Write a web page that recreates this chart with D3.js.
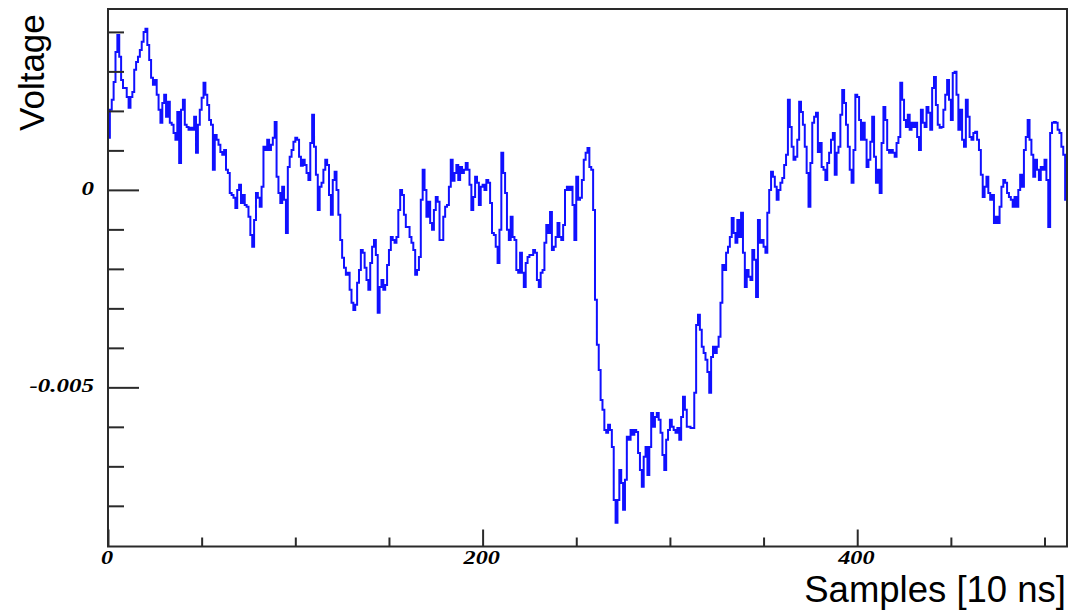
<!DOCTYPE html>
<html>
<head>
<meta charset="utf-8">
<script src="https://cdn.jsdelivr.net/npm/d3@7"></script>
<style>
  body { margin: 0; background: #fff; }
  svg { display: block; }
</style>
</head>
<body>
<script>
// Digitizer trace: one value per sample, in millivolts
const voltageMv = [
  1.32, 2.03, 2.28, 2.73, 3.49, 3.92, 3.37, 2.78, 2.58, 2.58,
  2.35, 2.08, 2.35, 2.48, 3.04, 3.24, 3.37, 3.54, 3.75, 4.00,
  4.08, 3.67, 3.29, 2.84, 2.66, 2.78, 2.41, 2.03, 1.70, 2.20,
  2.41, 1.85, 2.23, 1.70, 1.65, 1.44, 1.27, 1.97, 0.68, 2.03,
  2.28, 1.65, 1.59, 1.52, 1.57, 1.52, 1.85, 0.94, 1.65, 2.03,
  2.33, 2.71, 2.41, 2.15, 1.77, 1.65, 0.51, 1.39, 1.27, 1.14,
  0.96, 0.89, 1.01, 0.51, 0.43, -0.08, -0.13, -0.20, -0.46, 0,
  0.13, -0.33, -0.13, -0.38, -0.43, -0.68, -1.14, -1.44, -0.76, -0.08,
  -0.20, -0.43, 0.08, 1.09, 1.01, 1.27, 1.01, 1.14, 1.32, 1.72,
  0.33, -0.08, -0.33, 0.08, -0.25, -1.09, 0.58, 0.84, 1.01, 1.22,
  1.32, 1.27, 0.84, 0.61, 0.76, 0.63, 0.43, 0.25, 1.19, 1.90,
  1.09, 0.38, -0.51, 0.08, 0.18, 0.51, 0.76, 0.63, -0.13, -0.63,
  0.25, 0.46, 0, -0.63, -1.27, -1.72, -1.97, -2.15, -2.10, -2.53,
  -2.86, -3.04, -2.91, -2.35, -2.03, -1.52, -1.59, -1.97, -2.28, -2.53,
  -1.85, -1.44, -1.27, -1.65, -3.11, -2.46, -2.28, -2.53, -2.41, -1.90,
  -1.52, -1.19, -1.27, -1.34, -1.19, -0.51, 0, -0.13, -0.63, -0.94,
  -0.94, -1.19, -1.34, -1.52, -2.15, -2.03, -1.70, -0.25, 0.51, 0,
  -0.68, -0.30, -0.84, -1.01, -0.51, -0.18, -0.30, -1.27, -1.27, -0.68,
  -0.43, -0.38, 0.08, 0.76, 0.23, 0.43, 0.63, 0.25, 0.58, 0.43,
  0.51, 0.68, 0.51, 0.13, -0.51, -0.18, 0.33, 0.18, -0.38, 0.08,
  0.13, 0, 0.25, 0.18, -0.33, -1.09, -1.14, -1.44, -1.85, -1.01,
  0.94, 0.43, -0.08, -1.01, -1.27, -0.68, -1.19, -1.27, -2.03, -2.10,
  -1.59, -2.10, -2.46, -1.85, -1.70, -1.65, -1.65, -1.52, -1.59, -2.28,
  -2.46, -2.10, -2.03, -1.34, -0.89, -1.09, -0.56, -1.52, -1.44, -1.19,
  -0.84, -1.19, -1.27, -0.89, 0, 0.08, 0, 0.08, -0.38, -1.27,
  0.33, -0.25, -0.20, 0.25, 0.76, 0.94, 1.06, 0.58, 0.51, -0.51,
  -2.78, -3.92, -4.56, -5.32, -5.57, -6.08, -6.15, -5.95, -6.08, -6.51,
  -7.85, -8.43, -7.85, -7.09, -7.42, -8.10, -7.34, -6.25, -6.33, -6.08,
  -6.20, -6.08, -6.13, -6.66, -7.09, -7.52, -6.76, -6.51, -7.22, -6.51,
  -5.65, -6.00, -5.75, -5.65, -5.82, -6.15, -6.71, -7.09, -6.33, -6.08,
  -5.82, -6.00, -6.08, -6.15, -6.03, -6.33, -5.75, -5.24, -5.57, -6.00,
  -6.00, -6.03, -6.03, -5.14, -3.42, -3.16, -3.54, -3.97, -4.13, -4.30,
  -4.61, -5.14, -4.23, -3.97, -4.13, -3.97, -3.72, -2.86, -1.90, -2.03,
  -1.59, -1.44, -1.19, -0.71, -1.09, -1.34, -0.76, -1.19, -0.58, -1.59,
  -2.46, -2.03, -2.20, -2.28, -1.52, -1.77, -2.71, -0.76, -1.34, -1.27,
  -1.44, -1.59, -0.58, 0, 0.46, 0.33, 0.08, -0.25, 0, 0.18,
  0.30, 0.63, 0.89, 2.28, 1.59, 1.09, 0.76, 0.84, 1.27, 2.23,
  1.97, 1.65, 1.09, 0.43, -0.43, 0.68, 1.70, 1.85, 1.95, 0.96,
  1.19, 0.58, 0.51, 0.25, 0.68, 0.94, 1.27, 1.44, 0.38, 0.94,
  1.09, 1.90, 2.53, 2.20, 1.65, 1.09, 0.51, 0.18, 1.01, 2.41,
  2.35, 1.77, 1.27, 1.70, 1.27, 0.58, 0.76, 1.22, 1.85, 0.84,
  0.18, 0.51, -0.08, 1.19, 2.10, 1.77, 1.01, 0.94, 1.01, 0.94,
  0.84, 1.19, 1.34, 2.71, 2.28, 1.77, 1.59, 1.90, 1.52, 1.70,
  1.59, 1.70, 1.34, 1.01, 2.03, 1.70, 1.59, 2.10, 1.95, 1.52,
  2.58, 2.86, 2.15, 1.65, 1.57, 1.59, 2.03, 2.41, 2.78, 2.28,
  1.77, 2.96, 2.99, 2.41, 1.52, 2.03, 1.27, 1.09, 2.28, 1.85,
  1.34, 1.27, 1.44, 1.47, 1.27, 1.01, 0.38, -0.18, 0.08, 0.33,
  -0.08, -0.25, -0.13, -0.84, -0.68, -0.84, -0.43, 0.08, 0.25, 0.18,
  -0.08, -0.18, -0.25, -0.43, -0.18, -0.43, 0, 0.38, 0.08, 1.01,
  1.34, 1.77, 1.27, 0.89, 0.33, 0.76, 0.51, 0.25, 0.58, 0.51,
  0.76, 0.25, -0.94, 1.44, 1.70, 1.72, 1.70, 1.52, 1.44, 1.09,
  0.89, -0.25
];

// Axis ranges and ticks (volts on y, sample index on x)
const xDomain = [0, 512];
const yDomain = [-0.00903, 0.00458];
const xMajorTicks = [0, 200, 400];
const xMinorTicks = [50, 100, 150, 250, 300, 350, 450, 500];
const yMajorTicks = [0, -0.005];
const yMinorTicks = [0.004, 0.003, 0.002, 0.001, -0.001, -0.002, -0.003, -0.004, -0.006, -0.007, -0.008];
const yTickLabels = { "0": "0", "-0.005": "-0.005" };
const xTitle = "Samples [10 ns]";
const yTitle = "Voltage";

const width = 1074, height = 615;
const frame = { left: 108, right: 1067, top: 9, bottom: 546.5 };

const svg = d3.select("body").append("svg")
  .attr("width", width).attr("height", height);

const x = d3.scaleLinear().domain(xDomain).range([frame.left, frame.right]);
const y = d3.scaleLinear().domain(yDomain).range([frame.bottom, frame.top]);

const axisColor = "#2a2a2a";
const labelFont = "'Liberation Serif', 'DejaVu Serif', serif";
const stretch = 1.35;

// Clip region for the trace
svg.append("defs").append("clipPath").attr("id", "plot-clip")
  .append("rect")
  .attr("x", frame.left).attr("y", frame.top)
  .attr("width", frame.right - frame.left).attr("height", frame.bottom - frame.top);

// Trace, drawn as a step line (one flat segment per sample)
const line = d3.line()
  .x((d, i) => x(i + 0.5))
  .y(d => y(d / 1000))
  .curve(d3.curveStep);

svg.append("path")
  .datum(voltageMv)
  .attr("clip-path", "url(#plot-clip)")
  .attr("fill", "none")
  .attr("stroke", "#1010ff")
  .attr("stroke-width", 2)
  .attr("stroke-linejoin", "miter")
  .attr("d", line);

function styleAxis(g) {
  g.select(".domain").remove();
  g.selectAll(".tick line").attr("stroke", axisColor).attr("stroke-width", 2);
}

// X axis: minor ticks then major ticks with labels
svg.append("g")
  .attr("transform", `translate(0,${frame.bottom})`)
  .call(d3.axisBottom(x).tickValues(xMinorTicks).tickSize(-9).tickFormat(""))
  .call(styleAxis);

const xMajor = svg.append("g")
  .attr("transform", `translate(0,${frame.bottom})`)
  .call(d3.axisBottom(x).tickValues(xMajorTicks).tickSize(-17).tickPadding(4).tickFormat(d3.format("d")))
  .call(styleAxis);
xMajor.selectAll(".tick text")
  .attr("font-family", labelFont)
  .attr("font-style", "italic")
  .attr("font-weight", "bold")
  .attr("font-size", 18)
  .attr("fill", "#000")
  .attr("dy", "0.71em")
  .attr("y", 5)
  .attr("x", -1)
  .attr("transform", `scale(${stretch},1)`);

// Y axis: minor ticks then major ticks with labels
svg.append("g")
  .attr("transform", `translate(${frame.left},0)`)
  .call(d3.axisLeft(y).tickValues(yMinorTicks).tickSize(-16).tickFormat(""))
  .call(styleAxis);

const yMajor = svg.append("g")
  .attr("transform", `translate(${frame.left},0)`)
  .call(d3.axisLeft(y).tickValues(yMajorTicks).tickSize(-31).tickPadding(0)
    .tickFormat(d => yTickLabels[String(d)]))
  .call(styleAxis);
yMajor.selectAll(".tick text")
  .attr("font-family", labelFont)
  .attr("font-style", "italic")
  .attr("font-weight", "bold")
  .attr("font-size", 18.5)
  .attr("fill", "#000")
  .attr("x", -14 / stretch)
  .attr("dy", "0.25em")
  .attr("transform", `scale(${stretch},1)`);

// Frame around the plot area
svg.append("rect")
  .attr("x", frame.left).attr("y", frame.top)
  .attr("width", frame.right - frame.left).attr("height", frame.bottom - frame.top)
  .attr("fill", "none")
  .attr("stroke", axisColor)
  .attr("stroke-width", 2);

// Axis titles
svg.append("text")
  .attr("x", 1066).attr("y", 602)
  .attr("text-anchor", "end")
  .attr("font-family", "'Liberation Sans', Arial, sans-serif")
  .attr("font-size", 36.5)
  .attr("fill", "#000")
  .text(xTitle);

svg.append("text")
  .attr("transform", "translate(44,131) rotate(-90)")
  .attr("text-anchor", "start")
  .attr("font-family", "'Liberation Sans', Arial, sans-serif")
  .attr("font-size", 35)
  .attr("fill", "#000")
  .text(yTitle);
</script>
</body>
</html>
